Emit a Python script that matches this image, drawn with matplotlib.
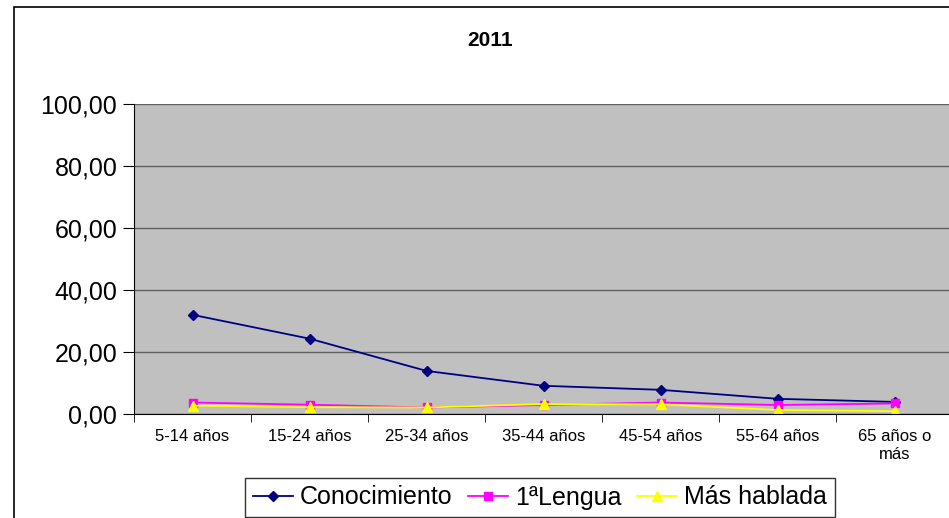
import numpy as np
import matplotlib.pyplot as plt
from matplotlib.patches import Rectangle

plt.rcParams["font.family"] = ["Liberation Sans", "DejaVu Sans"]

categories = ["5-14 años", "15-24 años", "25-34 años", "35-44 años",
              "45-54 años", "55-64 años", "65 años o\nmás"]
conocimiento = [32.0, 24.3, 13.9, 9.1, 7.8, 4.9, 3.9]
primera_lengua = [3.7, 3.0, 2.1, 2.9, 3.7, 2.9, 3.4]
mas_hablada = [2.7, 2.2, 2.1, 3.2, 3.1, 1.3, 0.9]
yticks = [0, 20, 40, 60, 80, 100]

W, H = 949, 518
fig = plt.figure(figsize=(W / 100, H / 100), dpi=100)

# chart area border
fig.patches.append(Rectangle((14 / W, -0.1), 1.1, (H - 7) / H + 0.1,
                             transform=fig.transFigure, fill=False,
                             edgecolor="black", linewidth=1.2))

left, right, top, bottom = 134, 953, 104, 414
ax = fig.add_axes([left / W, (H - bottom) / H, (right - left) / W, (bottom - top) / H])
ax.set_facecolor("#C0C0C0")

x = np.arange(len(categories))
ax.plot(x, conocimiento, color="#000080", marker="D", markersize=5, lw=1.3,
        label="Conocimiento")
ax.plot(x, primera_lengua, color="#FF00FF", marker="s", markersize=6, lw=1.3,
        label="1ªLengua")
ax.plot(x, mas_hablada, color="#FFFF00", marker="^", markersize=7, lw=1.3,
        label="Más hablada")

ax.set_xlim(-0.5, len(categories) - 0.5)
ax.set_ylim(0, 100)
ax.set_yticks(yticks)
ax.set_yticklabels([f"{v:.2f}".replace(".", ",") for v in yticks], fontsize=18)
ax.yaxis.grid(True, color="#606060", lw=1)
ax.set_axisbelow(True)

ax.set_xticks(x)
ax.set_xticklabels(categories, fontsize=12)
ax.set_xticks(np.arange(len(categories) + 1) - 0.5, minor=True)
ax.tick_params(axis="x", which="major", length=0, pad=11)
ax.tick_params(axis="x", which="minor", length=6, direction="out")
ax.tick_params(axis="y", length=8, direction="out", pad=4)

for s in ["top", "right"]:
    ax.spines[s].set_visible(False)
ax.spines["left"].set_color("black")
ax.spines["bottom"].set_color("black")

fig.text(490 / W, 1 - 40 / H, "2011", fontsize=15, fontweight="bold",
         ha="center", va="center")

leg = fig.legend(loc="upper left", bbox_to_anchor=(245 / W, 1 - 478 / H),
                 ncol=3, fontsize=18, frameon=True, fancybox=False,
                 handlelength=1.6, handletextpad=0.3, columnspacing=0.6,
                 borderpad=0.3, borderaxespad=0)
leg.get_frame().set_edgecolor("black")
leg.get_frame().set_linewidth(1)

fig.savefig("out.png", dpi=100)
